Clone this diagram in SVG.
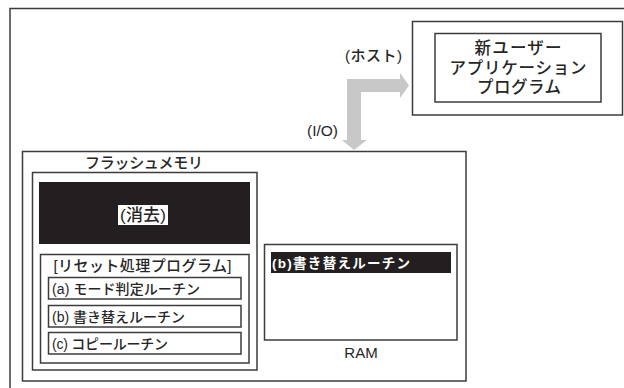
<svg xmlns="http://www.w3.org/2000/svg" width="624" height="388" viewBox="0 0 624 388">
<style>
  .box { fill: #ffffff; stroke: #3c3c3c; stroke-width: 1.5; }
  .t { font-family: "Liberation Sans", "Noto Sans CJK JP", sans-serif; fill: #262626; dominant-baseline: central; font-weight: 500; }
  .mid { text-anchor: middle; }
  .dark { fill: #231f20; }
  .wt { fill: #ffffff; font-weight: bold; }
  .arrow { fill: #c8c8c8; stroke: none; }
</style>
<rect x="0" y="0" width="624" height="388" fill="#ffffff"/>
<g id="frame">
  <rect x="10" y="8.5" width="700" height="500" class="box"/>
</g>
<g id="host">
  <rect x="412.5" y="21.5" width="210" height="93.5" class="box"/>
  <rect x="435" y="33.5" width="166" height="68.5" class="box"/>
  <text class="t mid" x="518" y="48" font-size="16.5" textLength="87" lengthAdjust="spacing">新ユーザー</text>
  <text class="t mid" x="518" y="68" font-size="16.5" textLength="137" lengthAdjust="spacing">アプリケーション</text>
  <text class="t mid" x="519" y="87" font-size="16.5" textLength="84" lengthAdjust="spacing">プログラム</text>
</g>
<g id="labels">
  <text class="t" x="345" y="55" font-size="15" textLength="57" lengthAdjust="spacing">(ホスト)</text>
  <text class="t" x="307" y="130" font-size="15" textLength="31" lengthAdjust="spacingAndGlyphs">(I/O)</text>
</g>
<g id="connectors">
  <polygon class="arrow" points="347,79 400,79 400,73 409,85.5 400,98 400,92 361,92 361,140 367,140 354,150 342,140 347,140"/>
</g>
<g id="flash">
  <rect x="22.5" y="151.5" width="443.5" height="229.5" class="box"/>
  <text class="t mid" x="144" y="162" font-size="15" textLength="118" lengthAdjust="spacing">フラッシュメモリ</text>
  <rect x="32.5" y="172.5" width="224.5" height="197.5" class="box"/>
</g>
<g id="erase">
  <rect x="39" y="182" width="211" height="62" class="dark"/>
  <rect x="118" y="205" width="50" height="20" fill="#ffffff"/>
  <text class="t mid" x="143" y="215" font-size="17" textLength="46" lengthAdjust="spacing">(消去)</text>
</g>
<g id="reset">
  <rect x="40.5" y="254.5" width="208.5" height="108.5" class="box"/>
  <text class="t mid" x="142.5" y="265" font-size="15" textLength="178" lengthAdjust="spacing">[リセット処理プログラム]</text>
</g>
<g id="routine-a">
  <rect x="48.5" y="277.5" width="192.5" height="21.5" class="box"/>
  <text class="t" x="52" y="288.5" font-size="14" textLength="148" lengthAdjust="spacing">(a) モード判定ルーチン</text>
</g>
<g id="routine-b">
  <rect x="48.5" y="305.5" width="192.5" height="21.5" class="box"/>
  <text class="t" x="52" y="316.5" font-size="14" textLength="133" lengthAdjust="spacing">(b) 書き替えルーチン</text>
</g>
<g id="routine-c">
  <rect x="48.5" y="332.5" width="192.5" height="21.5" class="box"/>
  <text class="t" x="52" y="343.5" font-size="14" textLength="116" lengthAdjust="spacing">(c) コピールーチン</text>
</g>
<g id="ram">
  <rect x="264.5" y="244.5" width="192.5" height="95.5" class="box"/>
  <rect x="271" y="252" width="180" height="21" class="dark"/>
  <text class="t wt" x="272" y="263" font-size="13.5" textLength="138" lengthAdjust="spacing">(b)書き替えルーチン</text>
  <text class="t mid" x="361" y="352" font-size="15">RAM</text>
</g>
</svg>
